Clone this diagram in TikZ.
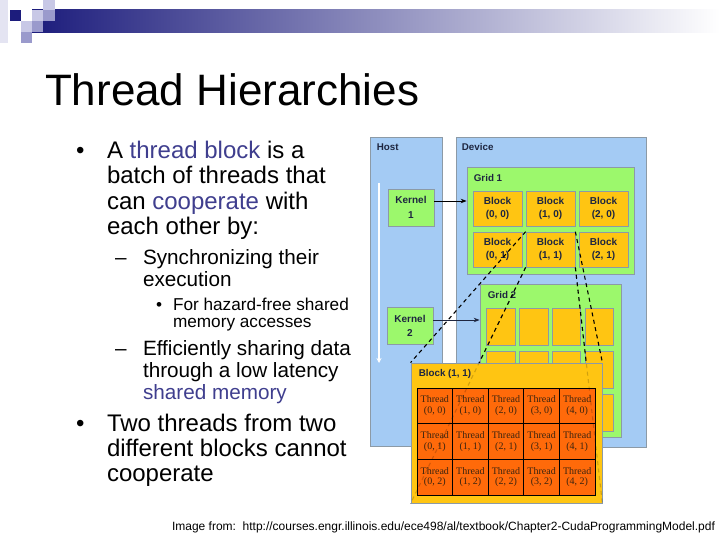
\documentclass[tikz,border=0pt]{standalone}
\usepackage{fontspec}
\setmainfont{Liberation Sans}
\newfontfamily\thrfont{Liberation Serif}
\usetikzlibrary{arrows.meta}
\pgfdeclarelayer{front}
\pgfdeclarelayer{top}
\pgfsetlayers{main,front,top}

\definecolor{hdrnavy}{HTML}{1C1C7C}
\definecolor{hdrmid}{HTML}{9494AE}
\definecolor{lavpale}{HTML}{E4E4F2}
\definecolor{lavlight}{HTML}{C8C8E6}
\definecolor{lavmid}{HTML}{9A9ACC}
\definecolor{hiblue}{HTML}{3F3E8E}
\definecolor{paneblue}{HTML}{A4CBF4}
\definecolor{gridgreen}{HTML}{9CF86C}
\definecolor{blkorange}{HTML}{FFC512}
\definecolor{throrange}{HTML}{FF6A0A}
\definecolor{edgegray}{HTML}{8C9AA6}
\definecolor{labeltext}{HTML}{1E2640}
\definecolor{thrtext}{HTML}{3B2410}

\begin{document}
\begin{tikzpicture}[x=1pt,y=-1pt,
  txt/.style={anchor=base west,inner sep=0pt,outer sep=0pt},
  lvla/.style={txt,font=\fontsize{24}{26}\selectfont},
  lvlb/.style={txt,font=\fontsize{20.7}{23}\selectfont},
  lvlc/.style={txt,font=\fontsize{17.2}{19}\selectfont},
  pane/.style={draw=edgegray,fill=paneblue,line width=.7pt,inner sep=0pt},
  gridbox/.style={draw=edgegray,fill=gridgreen,line width=.7pt,inner sep=0pt},
  kernbox/.style={gridbox,minimum width=46pt,minimum height=37pt,align=center,text=labeltext,font=\bfseries\fontsize{10}{14.5}\selectfont},
  blockbox/.style={draw=edgegray,fill=blkorange,line width=.7pt,inner sep=0pt,minimum width=49pt,minimum height=35pt,align=center,text=labeltext,font=\bfseries\fontsize{10}{13.5}\selectfont},
  cellbox/.style={draw=edgegray,fill=blkorange,line width=.7pt,inner sep=0pt,minimum width=28.5pt,minimum height=37pt},
  thrcell/.style={draw=black,fill=throrange,line width=.8pt,inner sep=0pt,minimum width=35.6pt,minimum height=35.67pt,align=center,text=thrtext,font=\thrfont\fontsize{10}{10.5}\selectfont},
  paneltext/.style={anchor=north west,inner sep=0pt,text=labeltext,font=\bfseries\fontsize{9.8}{12}\selectfont},
  linkdash/.style={line width=1.1pt,dash pattern=on 4pt off 3.5pt},
  kernarrow/.style={line width=.9pt,-{Stealth[length=6pt,width=4.5pt]}}
]
\useasboundingbox (0,0) rectangle (720,540);

% header band
\shade[left color=hdrnavy,middle color=hdrmid,right color=white] (32,10) rectangle (720,33);
\fill[lavpale] (0,0) rectangle (8,43);
\fill[hdrnavy] (10,10) rectangle (21,21);
\fill[lavlight] (21,21) rectangle (32,32);
\fill[lavmid] (21,32) rectangle (32,43);
\fill[lavlight] (32,10) rectangle (43,21);
\fill[lavmid] (32,21) rectangle (43,32);
\fill[lavlight] (43,0) rectangle (55,10);
\fill[lavmid] (43,10) rectangle (55,21);

\node[txt,font=\fontsize{44}{48}\selectfont] (title) at (45,106) {Thread Hierarchies};

% bullet text
\node[lvla] (dot1) at (76,159) {\textbullet};
\node[lvla] (p1a) at (107,159) {A \textcolor{hiblue}{thread block} is a};
\node[lvla] (p1b) at (107,184) {batch of threads that};
\node[lvla] (p1c) at (107,209.5) {can \textcolor{hiblue}{cooperate} with};
\node[lvla] (p1d) at (107,235) {each other by:};
\node[lvlb] (dash1) at (115,264) {--};
\node[lvlb] (p2a) at (143,264) {Synchronizing their};
\node[lvlb] (p2b) at (143,286) {execution};
\node[lvlc] (dot2) at (156,310) {\textbullet};
\node[lvlc] (p3a) at (173,310) {For hazard-free shared};
\node[lvlc] (p3b) at (173,327) {memory accesses};
\node[lvlb] (dash2) at (115,355) {--};
\node[lvlb] (p4a) at (143,355) {Efficiently sharing data};
\node[lvlb] (p4b) at (143,377.5) {through a low latency};
\node[lvlb] (p4c) at (143,399.5) {\textcolor{hiblue}{shared memory}};
\node[lvla] (dot3) at (76,431) {\textbullet};
\node[lvla] (p5a) at (107,431) {Two threads from two};
\node[lvla] (p5b) at (107,456.5) {different blocks cannot};
\node[lvla] (p5c) at (107,481) {cooperate};

% host and device
\node[pane,minimum width=72pt,minimum height=309pt] (host) at (406,291.5) {};
\node[pane,minimum width=190pt,minimum height=310pt] (device) at (551,292) {};
\node[paneltext] (hostlbl) at ([shift={(7pt,-7pt)}]host.north west) {Host};
\node[paneltext] (devlbl) at ([shift={(6pt,-7pt)}]device.north west) {Device};
\coordinate (tltop) at (379,183);
\coordinate (tlend) at (379,363);
\draw[white,line width=1.6pt,-{Stealth[length=5pt,width=5pt]}] (tltop) -- (tlend);

% grid 1
\node[gridbox,minimum width=167pt,minimum height=107pt] (grid1) at (550.5,220.5) {};
\node[paneltext] (g1lbl) at ([shift={(7pt,-8pt)}]grid1.north west) {Grid 1};
\foreach \i in {0,1,2}{\foreach \j in {0,1}{
  \node[blockbox] (b\i\j) at ({497.5+53*\i},{208.5+41*\j}) {Block\\(\i, \j)};
}}

% grid 2
\node[gridbox,minimum width=141pt,minimum height=153pt] (grid2) at (550.5,360.5) {};
\node[paneltext] (g2lbl) at ([shift={(8pt,-8pt)}]grid2.north west) {Grid 2};
\foreach \i in {0,...,3}{\foreach \j in {0,1,2}{
  \node[cellbox] (c\i\j) at ({501+32.7*\i},{326.5+43*\j}) {};
}}

% kernels
\node[kernbox] (kern1) at (411,207.5) {Kernel\\1};
\node[kernbox] (kern2) at (410,326) {Kernel\\2};
\draw[kernarrow] ([yshift=6.5pt]kern1.east) -- ([yshift=6.5pt]kern1.east -| grid1.west);
\draw[kernarrow,draw=labeltext,fill=labeltext] ([yshift=6pt]kern2.east) -- ([yshift=6pt]kern2.east -| grid2.west);

% block (1,1) blown up
\begin{pgfonlayer}{front}
\node[draw=edgegray,fill=blkorange,line width=.8pt,inner sep=0pt,minimum width=191pt,minimum height=140pt] (blk11) at (506.5,433) {};
\node[paneltext] (blk11lbl) at ([shift={(8pt,-7pt)}]blk11.north west) {Block (1, 1)};
\foreach \i in {0,...,4}{\foreach \j in {0,1,2}{
  \node[thrcell] (t\i\j) at ({434.8+35.6*\i},{405.8+35.67*\j}) {Thread\\(\i, \j)};
}}
\end{pgfonlayer}

\draw[linkdash] (b11.north west) -- (blk11.north west);
\draw[linkdash] (b11.south west) -- (blk11.south west);
\draw[linkdash] (b11.north east) -- (blk11.north east);
\draw[linkdash] (b11.south east) -- (blk11.south east);
\begin{pgfonlayer}{top}
\draw[linkdash,draw opacity=.18] (b11.south west) -- (blk11.south west);
\draw[linkdash,draw opacity=.18] (b11.south east) -- (blk11.south east);
\end{pgfonlayer}

\node[txt,font=\fontsize{12}{14}\selectfont] (credit) at (172,530) {Image from:\ \ http://courses.engr.illinois.edu/ece498/al/textbook/Chapter2-CudaProgrammingModel.pdf};
\end{tikzpicture}
\end{document}
